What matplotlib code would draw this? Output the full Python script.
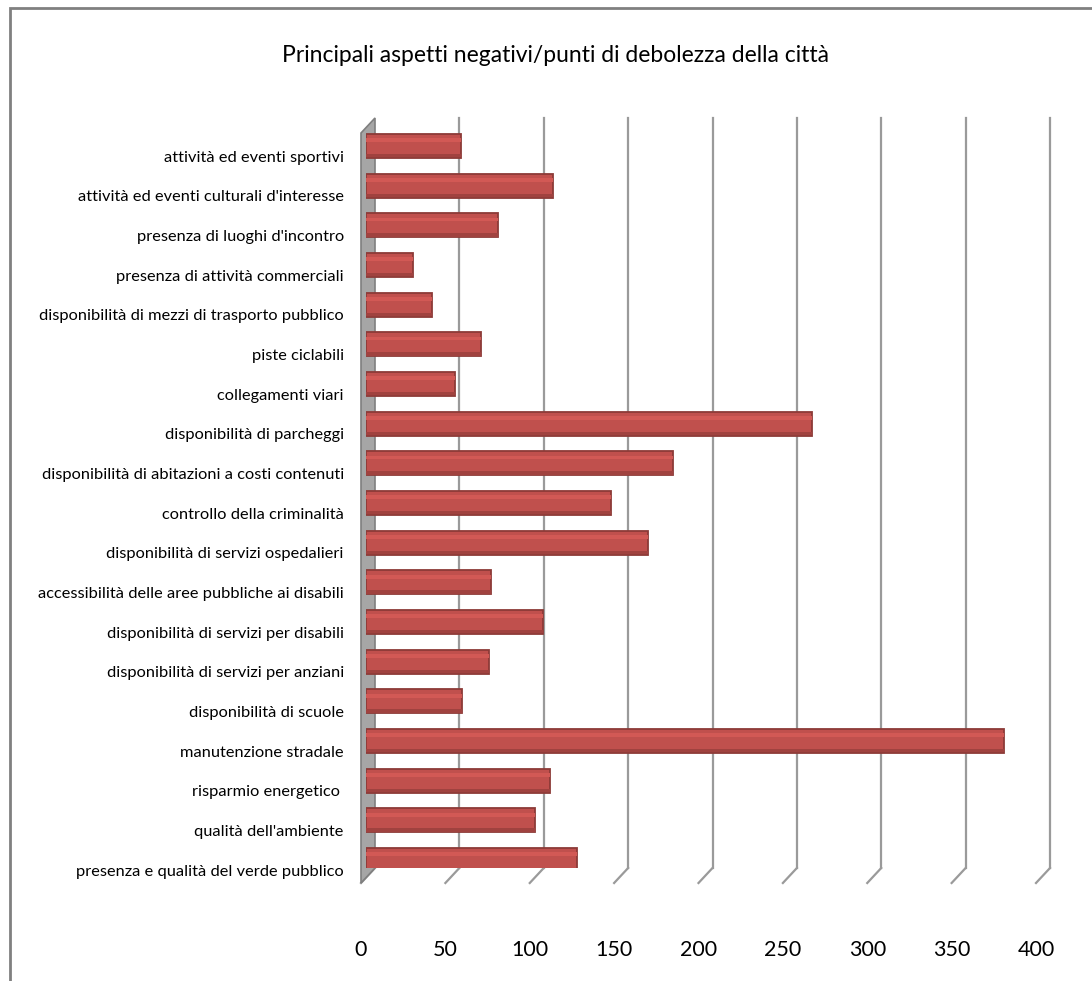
import numpy as np
import matplotlib
matplotlib.use("Agg")
import matplotlib.pyplot as plt
from matplotlib.transforms import offset_copy, ScaledTranslation
from matplotlib.patches import Polygon, Rectangle

plt.rcParams['font.family'] = ['Lato', 'DejaVu Sans']

# categories top to bottom
categories = [
    "attività ed eventi sportivi",
    "attività ed eventi culturali d'interesse",
    "presenza di luoghi d'incontro",
    "presenza di attività commerciali",
    "disponibilità di mezzi di trasporto pubblico",
    "piste ciclabili",
    "collegamenti viari",
    "disponibilità di parcheggi",
    "disponibilità di abitazioni a costi contenuti",
    "controllo della criminalità",
    "disponibilità di servizi ospedalieri",
    "accessibilità delle aree pubbliche ai disabili",
    "disponibilità di servizi per disabili",
    "disponibilità di servizi per anziani",
    "disponibilità di scuole",
    "manutenzione stradale",
    "risparmio energetico ",
    "qualità dell'ambiente",
    "presenza e qualità del verde pubblico",
]
values = [56, 111, 78, 28, 39, 68, 53, 264, 182, 145, 167, 74, 105, 73, 57, 378, 109, 100, 125]
xticks = [0, 50, 100, 150, 200, 250, 300, 350, 400]

fig = plt.figure(figsize=(10.92, 9.81), dpi=100)
W, H = 1092, 981

# axes placed in pixel units: x=0 at 366 px, x=400 at 1041 px, top 118 px, bottom 868 px
left, right, top, bottom = 366, 1041, 118, 868
ax = fig.add_axes([left / W, 1 - bottom / H, (right - left) / W, (bottom - top) / H])
ax.patch.set_visible(False)
ax.set_xlim(0, 400)
n = len(categories)
ypos = np.arange(n)
ax.set_ylim(18.2, -0.706)
for s in ax.spines.values():
    s.set_visible(False)
ax.set_xticks([])
ax.set_yticks(ypos)
ax.set_yticklabels(categories, fontsize=11.8)
ax.tick_params(axis='y', length=0, pad=16)
shift = ScaledTranslation(0, -0.10, fig.dpi_scale_trans)
for lab in ax.get_yticklabels():
    lab.set_transform(lab.get_transform() + shift)

# 3D frame: back wall offset right, floor edge toward the front
back = offset_copy(ax.transData, fig=fig, x=9, y=0, units='dots')
front = offset_copy(ax.transData, fig=fig, x=-5, y=-15, units='dots')
ytop, ybot = ax.get_ylim()[1], ax.get_ylim()[0]

# left side wall (gray), drawn under the axes content
p_back_top = back.transform((0, ytop))
p_back_bot = back.transform((0, ybot))
p_front_top = front.transform((0, ytop))
p_front_bot = front.transform((0, ybot))
wall = Polygon([p_front_top, p_back_top, p_back_bot, p_front_bot], closed=True,
               transform=None, facecolor='#a6a6a6', edgecolor='#7f7f7f', lw=1.2,
               zorder=-1)
fig.patches.append(wall)

for v in xticks[1:]:
    ax.plot([v, v], [ytop, ybot], transform=back, color='#9a9a9a', lw=1.6,
            clip_on=False, zorder=1)
for v in xticks:
    a = back.transform((v, ybot))
    b = front.transform((v, ybot))
    fig.add_artist(plt.Line2D([a[0] / W, b[0] / W], [a[1] / H, b[1] / H],
                              transform=fig.transFigure, color='#9a9a9a', lw=1.6, zorder=-1))
    ax.text(v, ybot, str(v), transform=offset_copy(ax.transData, fig=fig, x=-5, y=-82, units='dots'),
            ha='center', va='center', fontsize=15.5, color='black', clip_on=False)

# bars with a darker rim and a light highlight band
bh = 0.61
ax.barh(ypos, values, height=bh, color='#c0504d', edgecolor='#8c3a37', lw=1.3, zorder=3)
ax.barh(ypos - bh * 0.24, values, height=bh * 0.16, color='#d25955', lw=0, zorder=4)
ax.barh(ypos + bh * 0.40, values, height=bh * 0.14, color='#a0423f', lw=0, zorder=4)

fig.text(555 / W, 1 - 56 / H, "Principali aspetti negativi/punti di debolezza della città",
         ha='center', va='center', fontsize=16.5, color='black')

# outer chart border
fig.patches.append(Rectangle((10 / W, -0.05), 1.2, 1 - 8 / H + 0.05, transform=fig.transFigure,
                             fill=False, edgecolor='#808080', lw=2))

fig.savefig("out.png", dpi=100, facecolor='white')
